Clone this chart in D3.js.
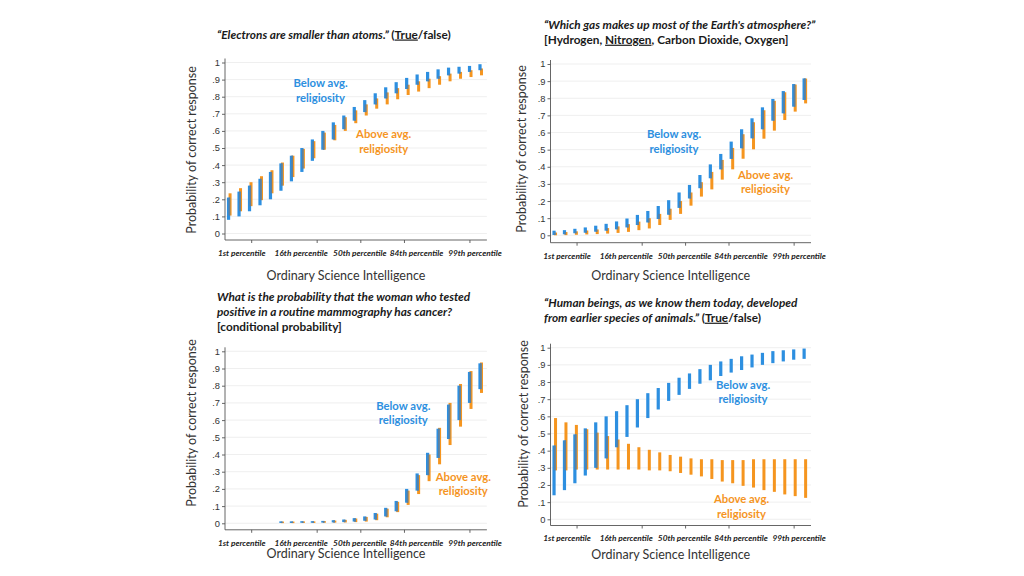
<!DOCTYPE html>
<html><head><meta charset="utf-8">
<script src="https://cdn.jsdelivr.net/npm/d3@7/dist/d3.min.js"></script>
<style>
body{margin:0;background:#fff;}
svg{display:block;}
</style></head>
<body><svg id="c" width="1024" height="576"></svg>
<script>
// ---------- DATA ----------
const osi = [-3.00,-2.76,-2.52,-2.28,-2.04,-1.80,-1.56,-1.32,-1.08,-0.84,-0.60,-0.36,-0.12,0.12,0.36,0.60,0.84,1.08,1.32,1.56,1.80,2.04,2.28,2.52,2.76];
const xTickValues = [-2.5,-1,0,1,2.5];
const xTickLabels = ["1st percentile","16th percentile","50th percentile","84th percentile","99th percentile"];
const yTickValues = [0,0.1,0.2,0.3,0.4,0.5,0.6,0.7,0.8,0.9,1];
const yTickLabels = ["0",".1",".2",".3",".4",".5",".6",".7",".8",".9","1"];

// Panel 1: electrons
const elecBelowLo = [0.08,0.10,0.13,0.165,0.20,0.25,0.305,0.36,0.425,0.49,0.55,0.61,0.66,0.71,0.755,0.79,0.82,0.845,0.87,0.89,0.905,0.925,0.935,0.945,0.955];
const elecBelowHi = [0.21,0.245,0.28,0.32,0.36,0.41,0.455,0.50,0.55,0.60,0.65,0.69,0.74,0.78,0.82,0.855,0.885,0.91,0.93,0.945,0.96,0.97,0.975,0.98,0.99];
const elecAboveLo = [0.105,0.13,0.16,0.195,0.235,0.28,0.33,0.38,0.44,0.49,0.545,0.60,0.645,0.69,0.73,0.755,0.785,0.81,0.83,0.85,0.87,0.89,0.905,0.915,0.925];
const elecAboveHi = [0.235,0.265,0.30,0.335,0.37,0.415,0.455,0.495,0.54,0.59,0.635,0.68,0.72,0.755,0.79,0.825,0.85,0.87,0.89,0.905,0.92,0.935,0.945,0.955,0.965];

// Panel 2: atmosphere gas
const gasBelowLo = [0.002,0.006,0.012,0.015,0.021,0.027,0.035,0.046,0.06,0.075,0.095,0.12,0.16,0.215,0.275,0.333,0.385,0.446,0.508,0.566,0.619,0.669,0.712,0.751,0.79];
const gasBelowHi = [0.027,0.03,0.038,0.046,0.056,0.067,0.081,0.098,0.119,0.142,0.171,0.205,0.25,0.294,0.352,0.414,0.475,0.547,0.619,0.683,0.747,0.796,0.842,0.883,0.916];
const gasAboveLo = [0.0,0.001,0.003,0.005,0.007,0.01,0.014,0.02,0.03,0.04,0.06,0.09,0.125,0.173,0.226,0.268,0.325,0.385,0.447,0.502,0.564,0.611,0.673,0.722,0.77];
const gasAboveHi = [0.016,0.019,0.023,0.028,0.034,0.042,0.052,0.065,0.08,0.1,0.125,0.155,0.2,0.25,0.31,0.37,0.44,0.51,0.59,0.66,0.73,0.785,0.835,0.88,0.915];

// Panel 3: mammography (conditional probability)
const mamBelowLo = [null,null,null,null,null,0.002,0.002,0.003,0.003,0.004,0.005,0.007,0.01,0.015,0.022,0.04,0.07,0.12,0.19,0.28,0.38,0.49,0.60,0.70,0.78];
const mamBelowHi = [null,null,null,null,null,0.008,0.009,0.01,0.012,0.014,0.018,0.022,0.03,0.04,0.06,0.09,0.13,0.20,0.29,0.41,0.55,0.69,0.80,0.88,0.93];
const mamAboveLo = [null,null,null,null,null,0.001,0.001,0.002,0.002,0.003,0.004,0.005,0.007,0.01,0.018,0.035,0.065,0.107,0.17,0.245,0.343,0.455,0.562,0.665,0.758];
const mamAboveHi = [null,null,null,null,null,0.007,0.008,0.009,0.011,0.013,0.016,0.02,0.028,0.037,0.056,0.085,0.125,0.19,0.28,0.40,0.555,0.70,0.81,0.885,0.935];

// Panel 4: evolution
const evoBelowLo = [0.14,0.17,0.21,0.255,0.30,0.355,0.42,0.48,0.535,0.59,0.64,0.69,0.725,0.76,0.79,0.81,0.835,0.855,0.87,0.885,0.90,0.91,0.92,0.93,0.935];
const evoBelowHi = [0.43,0.46,0.495,0.53,0.565,0.60,0.63,0.665,0.70,0.735,0.765,0.795,0.825,0.85,0.875,0.90,0.92,0.935,0.95,0.96,0.97,0.98,0.985,0.99,0.995];
const evoAboveLo = [0.285,0.285,0.29,0.29,0.29,0.29,0.29,0.29,0.29,0.285,0.285,0.28,0.27,0.26,0.25,0.235,0.22,0.21,0.195,0.185,0.17,0.16,0.145,0.135,0.125];
const evoAboveHi = [0.59,0.565,0.55,0.525,0.505,0.485,0.465,0.44,0.42,0.405,0.39,0.375,0.365,0.355,0.35,0.35,0.345,0.345,0.345,0.35,0.35,0.35,0.35,0.35,0.35];

const xAxisTitle = "Ordinary Science Intelligence";
const yAxisTitle = "Probability of correct response";
const belowLabel = ["Below avg.","religiosity"];
const aboveLabel = ["Above avg.","religiosity"];

// ---------- STYLE / LAYOUT ----------
const BLUE = "#2d8fe0", ORANGE = "#f5951f", OVERLAP = "#5f7f9c";
const FONT = "Lato, 'Open Sans', sans-serif";
const NUMFONT = "'Liberation Sans', Arial, sans-serif";

const panels = [
  { bl: elecBelowLo, bh: elecBelowHi, al: elecAboveLo, ah: elecAboveHi,
    xr:[225,486.9], y0:233.5, y1:62.5, axY:240, ytx:191.7, yty:150, xtt:276,
    title:[[{t:"\u201cElectrons are smaller than atoms.\u201d ",i:1},{t:"(",i:0},{t:"True",i:0,u:1},{t:"/false)",i:0}]],
    tx:217, ty:38.5,
    below:[320.5,83.5], above:[383.7,134.5] },
  { bl: gasBelowLo, bh: gasBelowHi, al: gasAboveLo, ah: gasAboveHi,
    xr:[550.5,811], y0:235.3, y1:64, axY:242.7, ytx:521.7, yty:149, xtt:276,
    title:[[{t:"\u201cWhich gas makes up most of the Earth's atmosphere?\u201d",i:1}],
           [{t:"[Hydrogen, ",i:0},{t:"Nitrogen",i:0,u:1},{t:", Carbon Dioxide, Oxygen]",i:0}]],
    tx:544, ty:28.5,
    below:[674,134.5], above:[765.5,175] },
  { bl: mamBelowLo, bh: mamBelowHi, al: mamAboveLo, ah: mamAboveHi,
    xr:[225,486.9], y0:523.3, y1:351.3, axY:529.8, ytx:191.7, yty:423, xtt:553.5,
    title:[[{t:"What is the probability that the woman who tested",i:1}],
           [{t:"positive in a routine mammography has cancer?",i:1}],
           [{t:"[conditional probability]",i:0}]],
    tx:217, ty:301,
    below:[403.3,405.7], above:[463.3,476.7] },
  { bl: evoBelowLo, bh: evoBelowHi, al: evoAboveLo, ah: evoAboveHi,
    xr:[550.5,811], y0:519.3, y1:347.7, axY:525.5, ytx:523.3, yty:424, xtt:555,
    title:[[{t:"\u201cHuman beings, as we know them today, developed",i:1}],
           [{t:"from earlier species of animals.\u201d ",i:1},{t:"(",i:0},{t:"True",i:0,u:1},{t:"/false)",i:0}]],
    tx:544, ty:306.5,
    below:[743,385], above:[741.5,499.3] }
];
const xLabelDx = [-10,-16,-1,12,5];

const svg = d3.select("#c");

panels.forEach(p => {
  const g = svg.append("g");
  const x = d3.scaleLinear().domain([-3.1, 2.9]).range(p.xr);
  const y = d3.scaleLinear().domain([0, 1]).range([p.y0, p.y1]);

  // gridlines
  g.append("g").selectAll("line").data(yTickValues).join("line")
    .attr("x1", p.xr[0]).attr("x2", p.xr[1])
    .attr("y1", d => y(d)).attr("y2", d => y(d))
    .attr("stroke", "#ebebeb").attr("stroke-width", 0.8);

  // y axis
  const ya = g.append("g").attr("transform", `translate(${p.xr[0]},0)`)
    .call(d3.axisLeft(y).tickValues(yTickValues).tickFormat((d,i)=>yTickLabels[i]).tickSize(3).tickSizeOuter(0).tickPadding(2));
  ya.select(".domain").remove();
  ya.selectAll("line").attr("stroke", "#666");
  ya.selectAll("text").attr("font-family", NUMFONT).attr("font-size", 9.3).attr("fill", "#333");
  g.append("line").attr("x1", p.xr[0]).attr("x2", p.xr[0]).attr("y1", p.y1 - 4).attr("y2", p.axY)
    .attr("stroke", "#555").attr("stroke-width", 0.9);

  // x axis
  const xa = g.append("g").attr("transform", `translate(0,${p.axY})`)
    .call(d3.axisBottom(x).tickValues(xTickValues).tickFormat((d,i)=>xTickLabels[i]).tickSize(3).tickSizeOuter(0).tickPadding(7));
  xa.select(".domain").remove();
  xa.selectAll("line").attr("stroke", "#666");
  xa.selectAll("text").attr("font-family", FONT).attr("font-size", 8.3).attr("font-weight", 700)
    .attr("font-style", "italic").attr("fill", "#222")
    .attr("dx", (d,i) => xLabelDx[i]);
  g.append("line").attr("x1", p.xr[0]).attr("x2", p.xr[1]).attr("y1", p.axY).attr("y2", p.axY)
    .attr("stroke", "#555").attr("stroke-width", 0.9);

  // interval bars
  const idx = d3.range(osi.length).filter(i => p.bl[i] != null);
  const hgt = (lo, hi) => Math.max(y(lo) - y(hi), 1.6);
  g.append("g").selectAll("rect").data(idx).join("rect")
    .attr("x", i => x(osi[i]) - 0.8).attr("width", 3)
    .attr("y", i => Math.min(y(p.ah[i]), y(p.al[i]) - 1.6)).attr("height", i => hgt(p.al[i], p.ah[i]))
    .attr("fill", ORANGE);
  g.append("g").selectAll("rect").data(idx).join("rect")
    .attr("x", i => x(osi[i]) - 2.4).attr("width", 3.2)
    .attr("y", i => Math.min(y(p.bh[i]), y(p.bl[i]) - 1.6)).attr("height", i => hgt(p.bl[i], p.bh[i]))
    .attr("fill", BLUE);
  // overlap band
  const ov = idx.filter(i => Math.min(p.bh[i], p.ah[i]) - Math.max(p.bl[i], p.al[i]) > 0.004);
  g.append("g").selectAll("rect").data(ov).join("rect")
    .attr("x", i => x(osi[i]) - 0.8).attr("width", 1.5)
    .attr("y", i => y(Math.min(p.bh[i], p.ah[i])))
    .attr("height", i => y(Math.max(p.bl[i], p.al[i])) - y(Math.min(p.bh[i], p.ah[i])))
    .attr("fill", OVERLAP);

  // axis titles
  g.append("text").attr("x", (p.xr[0] + p.xr[1]) / 2 - 10).attr("y", p.xtt).attr("dy", "0.35em")
    .attr("text-anchor", "middle").attr("font-family", FONT).attr("font-size", 12.5).attr("fill", "#333")
    .text(xAxisTitle);
  g.append("text").attr("transform", `translate(${p.ytx},${p.yty}) rotate(-90)`).attr("dy", "0.35em")
    .attr("text-anchor", "middle").attr("font-family", FONT).attr("font-size", 12.5).attr("fill", "#333")
    .text(yAxisTitle);

  // panel title
  p.title.forEach((line, li) => {
    const t = g.append("text").attr("x", p.tx).attr("y", p.ty + li * 15.2)
      .attr("font-family", FONT).attr("font-size", 11.8).attr("font-weight", 700).attr("fill", "#1a1a1a");
    line.forEach(seg => {
      const ts = t.append("tspan").text(seg.t).attr("font-style", seg.i ? "italic" : "normal");
      if (seg.u) ts.style("text-decoration", "underline");
    });
  });

  // group labels
  [[belowLabel, p.below, BLUE], [aboveLabel, p.above, ORANGE]].forEach(([lab, pos, col]) => {
    lab.forEach((s, k) => {
      g.append("text").attr("x", pos[0]).attr("y", pos[1] + k * 14.5).attr("dy", "0.35em")
        .attr("text-anchor", "middle").attr("font-family", FONT).attr("font-size", 11.3)
        .attr("font-weight", 700).attr("fill", col).text(s);
    });
  });
});
</script></body></html>
